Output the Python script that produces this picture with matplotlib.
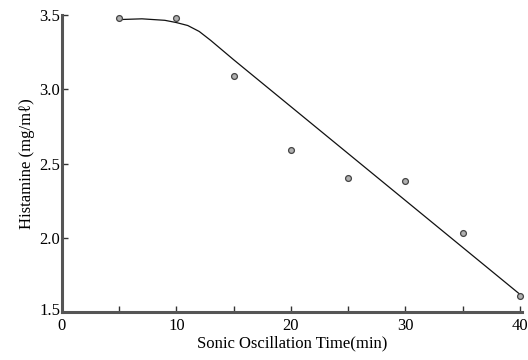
import matplotlib
matplotlib.use("Agg")
import matplotlib.pyplot as plt
import matplotlib.transforms as mtransforms

# Measured data points
time_min = [5, 10, 15, 20, 25, 30, 35, 40]
histamine = [3.48, 3.48, 3.09, 2.59, 2.40, 2.38, 2.03, 1.61]

# Hand-drawn trend curve
curve_x = [5, 7, 9, 10, 11, 12, 13, 15, 40]
curve_y = [3.47, 3.475, 3.465, 3.45, 3.43, 3.39, 3.33, 3.20, 1.62]

xticks = [0, 10, 20, 30, 40]
yticks = [1.5, 2.0, 2.5, 3.0, 3.5]
ytick_labels = ["1.5", "2.0", "2.5", "3.0", "3.5"]

serif = ["Liberation Serif", "DejaVu Serif"]
plt.rcParams["font.family"] = serif

fig = plt.figure(figsize=(5.28, 3.6), dpi=100)
ax = fig.add_axes([0.117, 0.133, 0.872, 0.825])

ax.plot(curve_x, curve_y, color="#111111", lw=0.9, clip_on=False)
ax.plot(time_min, histamine, linestyle="none", marker="o", markersize=4.2,
        markerfacecolor="#b0b0b0", markeredgecolor="#444444",
        markeredgewidth=0.9, clip_on=False, zorder=3)

ax.set_xlim(0, 40.2)
ax.set_ylim(1.5, 3.5)

for s in ["top", "right"]:
    ax.spines[s].set_visible(False)
for s in ["left", "bottom"]:
    ax.spines[s].set_linewidth(2.2)
    ax.spines[s].set_color("#555555")

ax.set_xticks(xticks)
ax.set_xticks([5, 15, 25, 35], minor=True)
ax.set_yticks(yticks)
ax.set_yticklabels(ytick_labels)
ax.tick_params(axis="both", which="both", direction="in", length=4,
               width=1, color="#333333", labelsize=12, pad=1)
ax.tick_params(axis="x", pad=4)

# nudge the lowest y label up slightly, as in the reference
lbl = ax.get_yticklabels()[0]
lbl.set_transform(lbl.get_transform() +
                  mtransforms.ScaledTranslation(0, 3 / 100, fig.dpi_scale_trans))

ax.set_xlabel("Sonic Oscillation Time(min)", fontsize=12, labelpad=1)
ax.set_ylabel("Histamine (mg/mℓ)", fontsize=12, labelpad=3)

fig.savefig("out.png", dpi=100)
